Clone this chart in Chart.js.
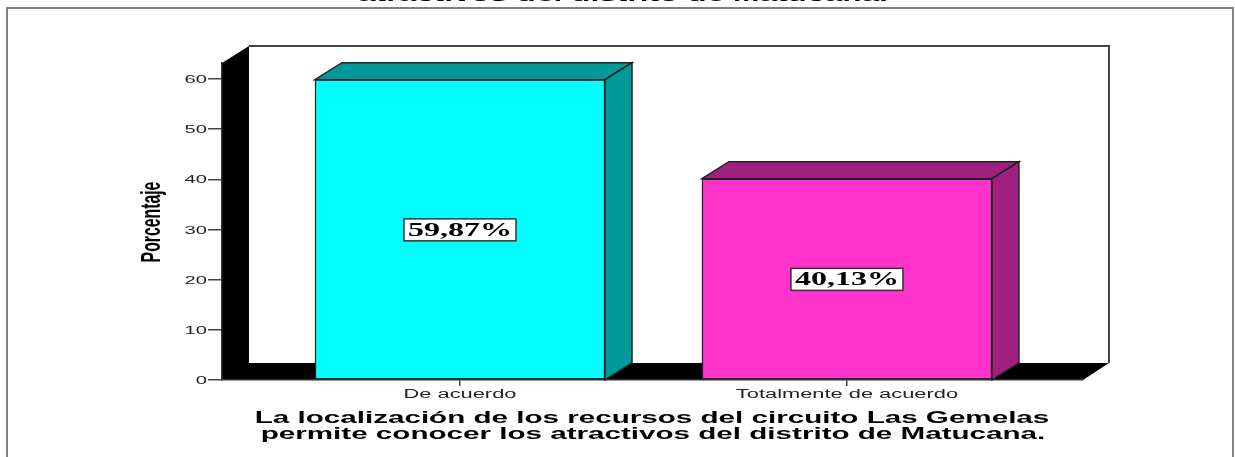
<!DOCTYPE html>
<html>
<head>
<meta charset="utf-8">
<script src="https://cdn.jsdelivr.net/npm/chart.js@4"></script>
<style>
body { margin: 0; background: #fff; overflow: hidden; }
canvas { display: block; }
</style>
</head>
<body>
<canvas id="myChart" width="1235" height="457"></canvas>
<script>
var categories = ['De acuerdo', 'Totalmente de acuerdo'];
var values = [59.87, 40.13];
var yTicks = [0, 10, 20, 30, 40, 50, 60];
var frontColors = ['#00ffff', '#ff33cc'];
var sideColors = ['#009999', '#a0207f'];
var yTitle = 'Porcentaje';
var clippedTitle = 'atractivos del distrito de Matucana.';
var xTitleLines = [
    'La localización de los recursos del circuito Las Gemelas',
    'permite conocer los atractivos del distrito de Matucana.'
];

var depthX = 27;
var depthY = -17;

function poly(ctx, pts, fill, stroke) {
    ctx.beginPath();
    ctx.moveTo(pts[0][0], pts[0][1]);
    for (var i = 1; i < pts.length; i++) ctx.lineTo(pts[i][0], pts[i][1]);
    ctx.closePath();
    if (fill) { ctx.fillStyle = fill; ctx.fill(); }
    if (stroke) { ctx.strokeStyle = stroke; ctx.lineWidth = 1.5; ctx.stroke(); }
}

// the original text is stretched sideways, so draw it through a scaled context
function wideText(ctx, text, cx, y, font, color, sx, align) {
    ctx.save();
    ctx.font = font;
    ctx.fillStyle = color;
    ctx.textAlign = align || 'center';
    ctx.textBaseline = 'alphabetic';
    ctx.translate(cx, y);
    ctx.scale(sx, 1);
    ctx.fillText(text, 0, 0);
    ctx.restore();
}

var box3d = {
    id: 'box3d',
    beforeDraw: function (chart) {
        var ctx = chart.ctx;
        var xs = chart.scales.x, ys = chart.scales.y;
        var base = ys.getPixelForValue(0);
        var backL = xs.left + depthX, backR = xs.right + depthX - 1, backB = base + depthY;
        ctx.save();
        ctx.fillStyle = '#fff';
        ctx.fillRect(0, 0, chart.width, chart.height);
        ctx.strokeStyle = '#808080';
        ctx.lineWidth = 2;
        ctx.strokeRect(7, 8, 1226, 470);
        // left wall and floor as one black shape
        poly(ctx, [[xs.left, ys.top], [backL, ys.top + depthY], [backL, backB], [backR, backB], [xs.right, base], [xs.left, base]], '#000');
        // back wall edges
        ctx.strokeStyle = '#444';
        ctx.lineWidth = 2;
        ctx.beginPath();
        ctx.moveTo(backL, ys.top + depthY);
        ctx.lineTo(backR, ys.top + depthY);
        ctx.lineTo(backR, backB);
        ctx.stroke();
        ctx.restore();
    },
    afterDatasetsDraw: function (chart) {
        var ctx = chart.ctx;
        var base = chart.scales.y.getPixelForValue(0);
        ctx.save();
        chart.getDatasetMeta(0).data.forEach(function (bar, i) {
            var l = bar.x - bar.width / 2, r = bar.x + bar.width / 2, t = bar.y;
            poly(ctx, [[l, t], [l + depthX, t + depthY], [r + depthX, t + depthY], [r, t]], sideColors[i], '#222');
            poly(ctx, [[r, t], [r + depthX, t + depthY], [r + depthX, base + depthY], [r, base]], sideColors[i], '#222');
        });
        ctx.restore();
    },
    afterDraw: function (chart) {
        var ctx = chart.ctx;
        var xs = chart.scales.x, ys = chart.scales.y;
        // value boxes
        chart.getDatasetMeta(0).data.forEach(function (bar, i) {
            var midY = (bar.y + ys.getPixelForValue(0)) / 2;
            ctx.fillStyle = '#fff';
            ctx.fillRect(bar.x - 56, midY - 11, 112, 22);
            ctx.strokeStyle = '#333';
            ctx.lineWidth = 1.5;
            ctx.strokeRect(bar.x - 56, midY - 11, 112, 22);
            wideText(ctx, values[i].toFixed(2).replace('.', ',') + '%', bar.x, midY + 6, 'bold 18px "Liberation Serif"', '#000', 1.78);
        });
        // tick labels
        yTicks.forEach(function (v) {
            wideText(ctx, String(v), xs.left - 15, ys.getPixelForValue(v) + 4, '11.5px "Liberation Sans"', '#222', 1.75, 'right');
        });
        categories.forEach(function (c, i) {
            wideText(ctx, c, xs.getPixelForValue(i), 398, '12px "Liberation Sans"', '#222', 1.82);
        });
        // titles
        wideText(ctx, xTitleLines[0], 652, 423, 'bold 16px "Liberation Sans"', '#000', 1.85);
        wideText(ctx, xTitleLines[1], 653, 439, 'bold 16px "Liberation Sans"', '#000', 1.85);
        wideText(ctx, clippedTitle, 623, 1, 'bold 16px "Liberation Sans"', '#000', 1.98);
        // y axis title, squeezed
        ctx.save();
        ctx.translate(160, 222);
        ctx.rotate(-Math.PI / 2);
        wideText(ctx, yTitle, 0, 0, 'bold 27px "Liberation Sans"', '#000', 0.585);
        ctx.restore();
    }
};

var ctx = document.getElementById('myChart').getContext('2d');
var myChart = new Chart(ctx, {
    type: 'bar',
    data: {
        datasets: [{
            label: yTitle,
            data: categories.map(function (c, i) { return { x: i, y: values[i] }; }),
            backgroundColor: frontColors,
            borderColor: '#222',
            borderWidth: 1.5,
            borderSkipped: false,
            barThickness: 290
        }]
    },
    options: {
        responsive: false,
        animation: false,
        layout: { padding: { left: 141, right: 152, top: 63, bottom: 47 } },
        plugins: { legend: { display: false }, tooltip: { enabled: false } },
        scales: {
            x: {
                type: 'linear',
                offset: false,
                min: -0.615,
                max: 1.61,
                afterBuildTicks: function (scale) {
                    scale.ticks = categories.map(function (c, i) { return { value: i }; });
                },
                afterFit: function (scale) { scale.height = 30; },
                ticks: { display: false },
                grid: { offset: false, drawOnChartArea: false, tickLength: 6, color: '#444', lineWidth: 1.5 },
                border: { color: '#333', width: 1.5 }
            },
            y: {
                min: 0,
                max: 63.2,
                afterBuildTicks: function (scale) {
                    scale.ticks = yTicks.map(function (v) { return { value: v }; });
                },
                afterFit: function (scale) { scale.width = 81; },
                ticks: { display: false },
                grid: { drawOnChartArea: false, tickLength: 14, color: '#444', lineWidth: 1.5 },
                border: { color: '#333', width: 1.5 }
            }
        }
    },
    plugins: [box3d]
});
</script>
</body>
</html>
